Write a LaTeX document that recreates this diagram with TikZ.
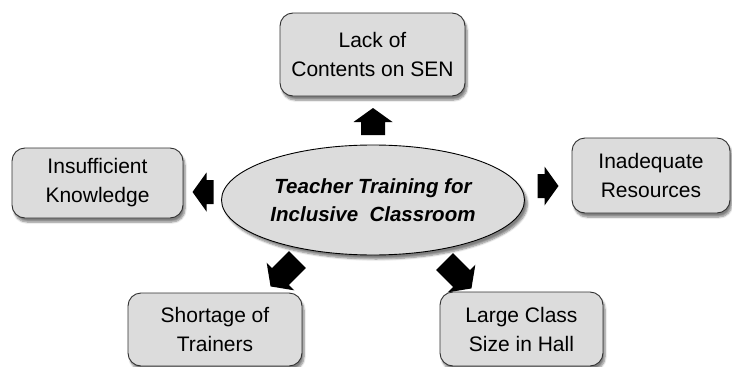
\documentclass[tikz,border=0pt]{standalone}
\usepackage{fontspec}
\setmainfont{Liberation Sans}
\usetikzlibrary{shapes.geometric,shadows.blur}
\definecolor{boxgray}{HTML}{DCDCDC}
\definecolor{edgegray}{HTML}{303030}
\tikzset{
  issuebox/.style={draw=edgegray, line width=0.9pt, fill=boxgray, rounded corners=13pt,
    align=center, inner sep=0pt, font=\fontsize{21}{29}\selectfont,
    blur shadow={shadow xshift=2pt, shadow yshift=-4pt, shadow blur steps=6, shadow opacity=50}},
  centre/.style={ellipse, draw=black, line width=0.9pt, fill=boxgray, align=center, inner sep=0pt,
    font=\fontsize{20.5}{28}\selectfont\bfseries\itshape,
    blur shadow={shadow xshift=3pt, shadow yshift=-4pt, shadow blur steps=6, shadow opacity=50}},
  pics/blockarrow/.style={code={
    \fill[black] (-#1/2,-12pt) -- (#1/2-14pt,-12pt) -- (#1/2-14pt,-19.5pt) -- (#1/2,0pt)
      -- (#1/2-14pt,19.5pt) -- (#1/2-14pt,12pt) -- (-#1/2,12pt) -- cycle;}}
}
\begin{document}
\begin{tikzpicture}[x=1pt,y=-1pt]
\useasboundingbox (0,0) rectangle (732,367);
\node[centre, minimum width=303pt, minimum height=110pt] (c) at (373,200)
  {Teacher Training for\\Inclusive\ \ Classroom};
\node[issuebox, minimum width=185pt, minimum height=83pt] (top) at (372.5,54.5) {Lack of\\Contents on SEN};
\node[issuebox, minimum width=171pt, minimum height=70pt] (left) at (97.5,183) {Insufficient\\Knowledge};
\node[issuebox, minimum width=158pt, minimum height=75pt] (right) at (651,175.5) {Inadequate\\Resources};
\node[issuebox, minimum width=174pt, minimum height=73pt] (bl) at (215,329.5) {Shortage of\\Trainers};
\node[issuebox, minimum width=163pt, minimum height=74pt] (br) at (521.5,329) {Large Class\\Size in Hall};
\pic[rotate=90] at (373,121.5) {blockarrow=27pt};
\pic[rotate=180] at (203,192) {blockarrow=21pt};
\pic[rotate=0] at (548,186) {blockarrow=21pt};
\pic[rotate=225] at (284,273) {blockarrow=38pt};
\pic[rotate=-45] at (458,275) {blockarrow=38pt};
\end{tikzpicture}
\end{document}
